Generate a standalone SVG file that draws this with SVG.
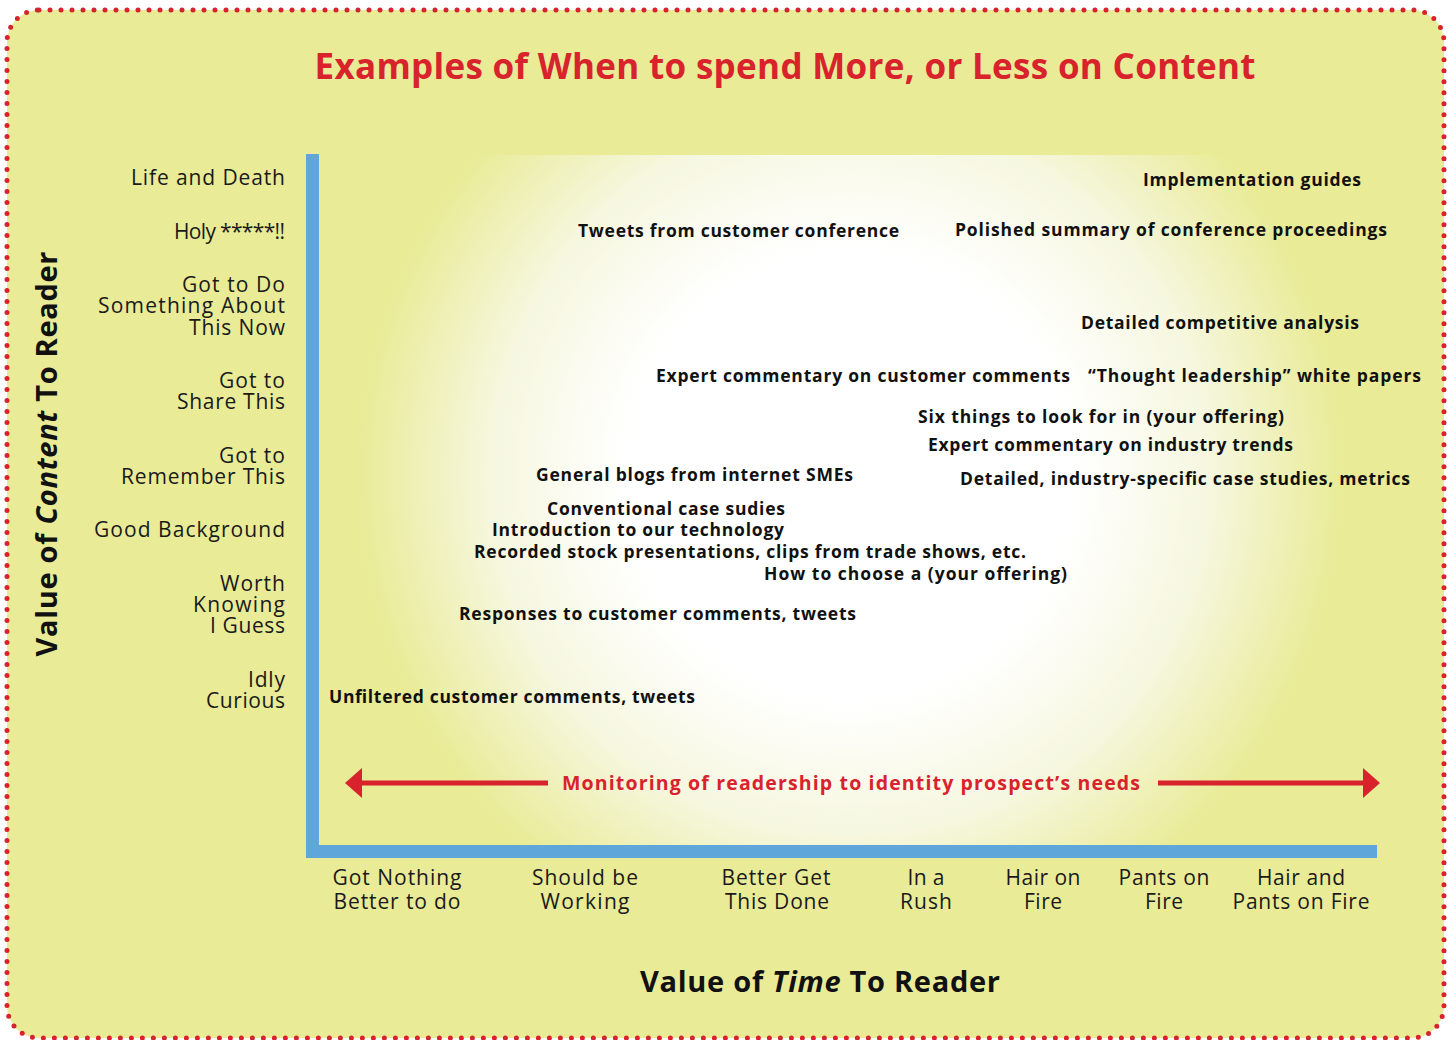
<svg xmlns="http://www.w3.org/2000/svg" width="1450" height="1040" viewBox="0 0 1450 1040">
  <style>
    .title { font-family: "Open Sans", "Liberation Sans", sans-serif; font-weight: 700; font-size: 35px; fill: #d8232d; }
    .ylab { font-family: "Open Sans", "Liberation Sans", sans-serif; font-size: 21px; fill: #1a1a1a; text-anchor: end; }
    .xlab { font-family: "Open Sans", "Liberation Sans", sans-serif; font-size: 21px; fill: #1a1a1a; text-anchor: middle; }
    .item { font-family: "Open Sans", "Liberation Sans", sans-serif; font-weight: 700; font-size: 17.5px; fill: #111; }
    .axis-title { font-family: "Open Sans", "Liberation Sans", sans-serif; font-weight: 700; font-size: 29px; fill: #111; }
    .note { font-family: "Open Sans", "Liberation Sans", sans-serif; font-weight: 700; font-size: 19.5px; fill: #d8232d; }
    .axis { fill: #5fa6db; }
    .arrow { stroke: #d8232d; stroke-width: 5; fill: none; }
    .head { fill: #d8232d; }
  </style>
  <defs>
    <radialGradient id="glow" gradientUnits="userSpaceOnUse" cx="850" cy="475" r="560">
      <stop offset="0" stop-color="#ffffff"/>
      <stop offset="0.4" stop-color="#ffffff"/>
      <stop offset="0.64" stop-color="#f6f7df"/>
      <stop offset="0.88" stop-color="#e9eb97"/>
      <stop offset="1" stop-color="#e9eb97"/>
    </radialGradient>
  </defs>

  <!-- page and dotted frame -->
  <rect x="0" y="0" width="1450" height="1040" fill="#ffffff"/>
  <rect x="7" y="10" width="1437" height="1028" rx="32" ry="32" fill="#e9eb97"/>
  <rect x="7" y="10" width="1437" height="1028" rx="32" ry="32" fill="none" stroke="#d8232d" stroke-width="5" stroke-dasharray="0 11" stroke-linecap="round"/>

  <!-- chart field -->
  <rect x="319" y="155" width="1058" height="690" fill="url(#glow)"/>

  <text class="title" x="785" y="79" text-anchor="middle" textLength="941">Examples of When to spend More, or Less on Content</text>

  <!-- axes -->
  <g id="axes">
    <rect class="axis" x="306" y="154" width="13" height="704"/>
    <rect class="axis" x="306" y="845" width="1071" height="13"/>
  </g>

  <!-- vertical scale -->
  <g id="y-scale">
    <text class="ylab" x="285" y="185" textLength="154">Life and Death</text>
    <text class="ylab" x="285" y="239" textLength="111">Holy *****!!</text>
    <text class="ylab" x="285" y="292" textLength="103">Got to Do</text>
    <text class="ylab" x="285" y="313" textLength="187">Something About</text>
    <text class="ylab" x="285" y="335" textLength="96">This Now</text>
    <text class="ylab" x="285" y="388" textLength="66">Got to</text>
    <text class="ylab" x="285" y="409" textLength="108">Share This</text>
    <text class="ylab" x="285" y="463" textLength="66">Got to</text>
    <text class="ylab" x="285" y="484" textLength="164">Remember This</text>
    <text class="ylab" x="285" y="537" textLength="191">Good Background</text>
    <text class="ylab" x="285" y="591" textLength="65">Worth</text>
    <text class="ylab" x="285" y="612" textLength="92">Knowing</text>
    <text class="ylab" x="285" y="633" textLength="75">I Guess</text>
    <text class="ylab" x="285" y="687" textLength="37">Idly</text>
    <text class="ylab" x="285" y="708" textLength="79">Curious</text>
  </g>

  <text class="axis-title" transform="translate(57 454) rotate(-90)" text-anchor="middle" textLength="405">Value of <tspan font-style="italic">Content</tspan> To Reader</text>

  <!-- horizontal scale -->
  <g id="x-scale">
    <text class="xlab" x="397" y="885" textLength="129">Got Nothing</text>
    <text class="xlab" x="397" y="909" textLength="127">Better to do</text>
    <text class="xlab" x="585" y="885" textLength="106">Should be</text>
    <text class="xlab" x="585" y="909" textLength="89">Working</text>
    <text class="xlab" x="776" y="885" textLength="109">Better Get</text>
    <text class="xlab" x="777" y="909" textLength="104">This Done</text>
    <text class="xlab" x="926" y="885" textLength="37">In a</text>
    <text class="xlab" x="926" y="909" textLength="52">Rush</text>
    <text class="xlab" x="1043" y="885" textLength="75">Hair on</text>
    <text class="xlab" x="1043" y="909" textLength="38">Fire</text>
    <text class="xlab" x="1164" y="885" textLength="91">Pants on</text>
    <text class="xlab" x="1164" y="909" textLength="38">Fire</text>
    <text class="xlab" x="1301" y="885" textLength="88">Hair and</text>
    <text class="xlab" x="1301" y="909" textLength="137">Pants on Fire</text>
  </g>

  <text class="axis-title" x="820" y="992" text-anchor="middle" textLength="360">Value of <tspan font-style="italic">Time</tspan> To Reader</text>

  <!-- content examples -->
  <g id="examples">
    <text id="n-impl" class="item" x="1143" y="186" textLength="218">Implementation guides</text>
    <text id="n-tweets-conf" class="item" x="578" y="237" textLength="321">Tweets from customer conference</text>
    <text id="n-polished" class="item" x="955" y="236" textLength="432">Polished summary of conference proceedings</text>
    <text id="n-competitive" class="item" x="1081" y="329" textLength="278">Detailed competitive analysis</text>
    <text id="n-expert-cust" class="item" x="656" y="382" textLength="414">Expert commentary on customer comments</text>
    <text id="n-thought" class="item" x="1088" y="382" textLength="333">“Thought leadership” white papers</text>
    <text id="n-six" class="item" x="918" y="423" textLength="366">Six things to look for in (your offering)</text>
    <text id="n-expert-ind" class="item" x="928" y="451" textLength="365">Expert commentary on industry trends</text>
    <text id="n-blogs" class="item" x="536" y="481" textLength="317">General blogs from internet SMEs</text>
    <text id="n-detailed-case" class="item" x="960" y="485" textLength="450">Detailed, industry-specific case studies, metrics</text>
    <text id="n-conventional" class="item" x="547" y="515" textLength="238">Conventional case sudies</text>
    <text id="n-intro" class="item" x="492" y="536" textLength="292">Introduction to our technology</text>
    <text id="n-recorded" class="item" x="474" y="558" textLength="552">Recorded stock presentations, clips from trade shows, etc.</text>
    <text id="n-howto" class="item" x="764" y="580" textLength="303">How to choose a (your offering)</text>
    <text id="n-responses" class="item" x="459" y="620" textLength="397">Responses to customer comments, tweets</text>
    <text id="n-unfiltered" class="item" x="329" y="703" textLength="366">Unfiltered customer comments, tweets</text>
  </g>

  <!-- monitoring arrow -->
  <g id="connectors">
    <line class="arrow" x1="360" y1="783" x2="548" y2="783"/>
    <polygon class="head" points="345,783 362,768 362,798"/>
    <line class="arrow" x1="1158" y1="783" x2="1365" y2="783"/>
    <polygon class="head" points="1380,783 1363,768 1363,798"/>
  </g>
  <text class="note" x="562" y="790" textLength="578">Monitoring of readership to identity prospect’s needs</text>
</svg>
